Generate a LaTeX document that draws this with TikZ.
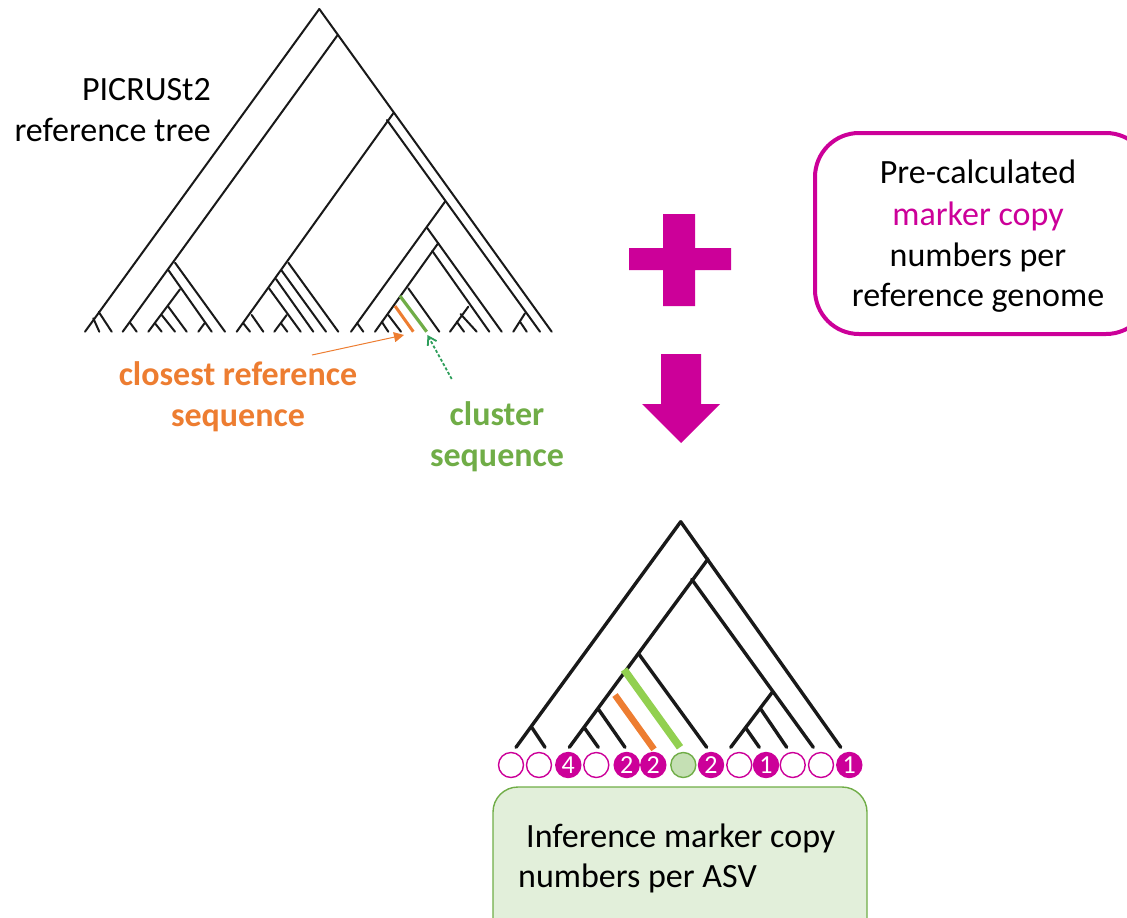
\documentclass[tikz,border=0pt]{standalone}
\usepackage{fontspec}
\setmainfont{Carlito}
\usetikzlibrary{arrows.meta}
\definecolor{mag}{HTML}{CC0099}
\definecolor{org}{HTML}{ED7D31}
\definecolor{grn}{HTML}{70AD47}
\definecolor{lgrn}{HTML}{92D050}
\definecolor{dgrn}{HTML}{2E9E5B}
\definecolor{boxg}{HTML}{E2EFDA}
\definecolor{cg}{HTML}{C5E0B4}
\tikzset{
  treeA/.style={line width=2pt,black!90,line cap=round},
  treeB/.style={line width=3.4pt,black!90,line cap=round},
  lbl/.style={font=\fontsize{34}{40}\selectfont,inner sep=0pt,anchor=base},
  lblb/.style={lbl,font=\fontsize{34}{40}\selectfont\bfseries},
  open/.style={circle,draw=mag,line width=1.4pt,fill=white,minimum size=25pt,inner sep=0pt},
  full/.style={circle,draw=mag,line width=1.4pt,fill=mag,text=white,minimum size=25pt,inner sep=0pt,font=\fontsize{26}{26}\selectfont},
}
\begin{document}
\begin{tikzpicture}[x=1pt,y=-1pt]
\useasboundingbox (0,0) rectangle (1127,918);
\clip (0,0) rectangle (1127,918);
% ---- reference tree
\foreach \a/\b/\c/\d in {
 319.3/9/85/331.7, 319.3/9/551.7/331.7,
 93.3/318.3/99.3/331.7, 98.8/312/111.7/331.7,
 337.7/35/122.7/331.7, 130/322.7/136.7/331.7,
 175/262.7/225/331.7, 168.3/270/211.7/331.7,
 180/289.3/148.3/331.7, 168.3/306.7/186.7/331.7, 161.7/315/175/331.7, 155/323.3/161.7/331.7,
 205/322.7/198.3/331.7,
 393.3/113.3/236.7/331.7, 387/120/540/331.7,
 288.3/262.7/338.3/331.7, 281.7/270.7/326/331.7, 276/279/313.3/331.7, 269/288.3/300.7/331.7,
 286.7/315/274.3/331.7, 281/323.3/287.3/331.7, 251.7/315/263.3/331.7, 243.3/323.3/250/331.7,
 445/201.7/351/331.7, 357.3/323.3/363.3/331.7,
 426.7/227.3/501.7/331.7, 438.3/243/375/331.7,
 432.3/251/489.3/331.7, 468.3/306.7/450/331.7, 460.5/314/476.7/331.7, 456.7/321.7/464/331.7,
 525/313.3/513.3/331.7, 520/321.7/526.7/331.7,
 381.7/321.7/388.3/331.7, 388.3/315/401/331.7, 408.3/288.3/439.3/331.7}
 {\draw[treeA] (\a,\b) -- (\c,\d);}
\draw[org,line width=3pt] (395,306) -- (413.3,331.7);
\draw[grn,line width=3.2pt] (400,296) -- (426.7,331.7);
% ---- labels of the reference tree
\node[lbl,anchor=base east] (t1) at (211,100) {PICRUSt2};
\node[lbl,anchor=base east] (t2) at (211,141) {reference tree};
\node[lblb,text=org] (t3) at (238,385) {closest reference};
\node[lblb,text=org] (t4) at (238,426) {sequence};
\node[lblb,text=grn] (t5) at (497,425) {cluster};
\node[lblb,text=grn] (t6) at (497,466) {sequence};
\coordinate (oa) at (312,355);
\coordinate (ob) at (404,335);
\draw[org,line width=1pt,-{Triangle[length=10pt,width=10pt]}] (oa) -- (ob);
\coordinate (ga) at (451.7,379);
\coordinate (gb) at (427.5,335);
\draw[dgrn,line width=1.8pt,densely dashed,-{Straight Barb[length=8pt,width=10pt]}] (ga) -- (gb);
% ---- plus and arrow
\fill[mag] (663,214) -- (695,214) -- (695,248) -- (731,248) -- (731,270) -- (695,270) -- (695,306) -- (663,306) -- (663,270) -- (629,270) -- (629,248) -- (663,248) -- cycle;
\fill[mag] (661,354) -- (701,354) -- (701,404) -- (720,404) -- (681,443) -- (642,404) -- (661,404) -- cycle;
% ---- copy number box
\draw[mag,line width=4pt,rounded corners=44pt,fill=white] (815,133) rectangle (1150,334);
\node[lbl] (p1) at (978,183) {Pre-calculated};
\node[lbl,text=mag] (p2) at (978,225) {marker copy};
\node[lbl] (p3) at (978,266) {numbers per};
\node[lbl] (p4) at (978,306) {reference genome};
% ---- inferred tree
\foreach \a/\b/\c/\d in {
 680.7/521.7/516/747.3, 680.7/521.7/840.7/747.3, 531.7/727.3/545/747.3,
 708/559/569.3/747.3, 691.7/579.3/813.3/747.3, 772.7/691.7/730.7/747.3,
 760.7/709/786.7/747.3, 746/728.3/759.3/747.3, 638.3/653.3/706.7/747.3,
 598.3/709/625/747.3, 584/727.3/598.3/747.3}
 {\draw[treeB] (\a,\b) -- (\c,\d);}
\draw[org,line width=6.5pt] (615,695) -- (654,749.3);
\draw[lgrn,line width=7.5pt] (624,669.5) -- (680,747.3);
% ---- circles
\node[open] (c1) at (511,765) {};
\node[open] (c2) at (539,765) {};
\node[full] (c3) at (568.3,765) {4};
\node[open] (c4) at (596.3,765) {};
\node[full] (c5) at (626.7,765) {2};
\node[full] (c6) at (653.3,765) {2};
\node[circle,draw=grn,line width=1.4pt,fill=cg,minimum size=25pt,inner sep=0pt] (c7) at (683.3,765) {};
\node[full] (c8) at (711,765) {2};
\node[open] (c9) at (739.3,765) {};
\node[full] (c10) at (766,765) {1};
\node[open] (c11) at (792.7,765) {};
\node[open] (c12) at (821,765) {};
\node[full] (c13) at (849.3,765) {1};
% ---- result box
\draw[grn,line width=1.4pt,fill=boxg,rounded corners=25pt] (493,787) rectangle (867,945);
\node[lbl,anchor=base west] (r1) at (526,847) {Inference marker copy};
\node[lbl,anchor=base west] (r2) at (518,887) {numbers per ASV};
\end{tikzpicture}
\end{document}
